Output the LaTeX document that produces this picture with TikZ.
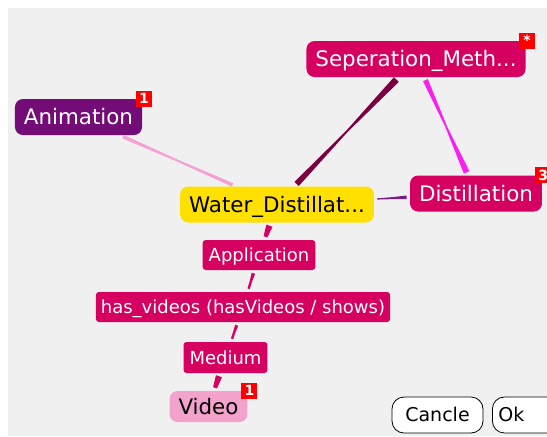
\documentclass[tikz,border=0pt]{standalone}
\usepackage{fontspec}
\setmainfont{DejaVu Sans}
\usetikzlibrary{positioning, calc}

\definecolor{panelgrey}{RGB}{240,240,240}
\definecolor{crimson}{RGB}{214,0,96}
\definecolor{animpurple}{RGB}{116,12,120}
\definecolor{topicyellow}{RGB}{255,224,0}
\definecolor{videopink}{RGB}{243,162,204}
\definecolor{badgered}{RGB}{255,0,0}
\definecolor{linkmaroon}{RGB}{122,0,64}
\definecolor{linkmagenta}{RGB}{250,30,240}
\definecolor{linkpink}{RGB}{245,160,210}
\definecolor{linkpurple}{RGB}{120,30,130}

% tapered link: from, to, colour, half width at from, in the middle, at to
\newcommand{\wedgelink}[6]{%
  \path (#1) -- coordinate[pos=0] (ta) coordinate[pos=1] (tb) (#2);
  \coordinate (tA) at ($(ta)!1.5pt!(tb)$);
  \coordinate (tB) at ($(tb)!1.5pt!(ta)$);
  \coordinate (tM) at ($(tA)!.5!(tB)$);
  \fill[#3] ($(tA)!#4!90:(tB)$) -- ($(tM)!#5!90:(tB)$) -- ($(tB)!#6!-90:(tA)$)
    -- ($(tB)!#6!90:(tA)$) -- ($(tM)!#5!-90:(tB)$) -- ($(tA)!#4!-90:(tB)$) -- cycle;
}

\tikzset{
  topic/.style={rounded corners=4pt, minimum height=18pt, inner xsep=4.5pt, inner ysep=0pt,
    text height=7.8pt, text depth=0pt, font=\fontsize{10.7}{12}\selectfont},
  relation/.style={fill=crimson, text=white, rounded corners=1.5pt, minimum height=15pt,
    inner xsep=3pt, inner ysep=0pt, text height=6.6pt, text depth=0pt, font=\fontsize{9}{10}\selectfont},
  badge/.style={fill=badgered, text=white, minimum size=8pt, inner sep=0pt,
    font=\fontsize{7}{7}\selectfont\bfseries},
  button/.style={draw=black, fill=white, rounded corners=6pt, minimum height=18pt,
    inner ysep=0pt, text height=6pt, text depth=-1.5pt, font=\fontsize{9.5}{10}\selectfont}
}

\begin{document}
\begin{tikzpicture}[x=0.5pt, y=-0.5pt]
    \useasboundingbox (0,0) rectangle (547,436);
    \fill[panelgrey] (8,8) rectangle (547,436);
    % Topics
    \node[topic, fill=crimson, text=white] (sep) at (416,59) {Seperation\_Meth...};
    \node[topic, fill=animpurple, text=white] (anim) at (78.5,117) {Animation};
    \node[topic, fill=topicyellow] (water) at (277,204.5) {Water\_Distillat...};
    \node[topic, fill=crimson, text=white] (dist) at (476,193.5) {Distillation};
    \node[topic, fill=videopink, minimum height=15.5pt] (video) at (208.5,406.5) {Video};
    % Relations
    \node[relation] (app) at (259,255) {Application};
    \node[relation, inner xsep=2.5pt] (hasvid) at (243,307) {has\_videos (hasVideos / shows)};
    \node[relation, minimum height=15.5pt] (medium) at (225.5,357.5) {Medium};
    % Badges
    \node[badge] (sepbadge) at ([xshift=0.5pt]sep.north east) {*};
    \node[badge] (animbadge) at ([xshift=0.75pt]anim.north east) {1};
    \node[badge] (distbadge) at ([xshift=0.5pt]dist.north east) {3};
    \node[badge] (videobadge) at ([xshift=0.75pt]video.north east) {1};
    % Links
    \wedgelink{sep}{water}{linkmaroon}{1.7pt}{0.45pt}{1.5pt}
    \wedgelink{sep}{dist}{linkmagenta}{1.3pt}{0.45pt}{1.5pt}
    \wedgelink{anim}{water}{linkpink}{0.9pt}{0.5pt}{0.9pt}
    \wedgelink{water}{dist}{linkpurple}{0.3pt}{0.5pt}{0.9pt}
    \wedgelink{water}{app}{crimson}{1.6pt}{1.3pt}{1pt}
    \wedgelink{app}{hasvid}{crimson}{0.9pt}{0.6pt}{0.6pt}
    \wedgelink{hasvid}{medium}{crimson}{0.8pt}{0.6pt}{0.6pt}
    \wedgelink{medium}{video}{crimson}{1.6pt}{1.3pt}{1pt}
    % Buttons
    \node[button, minimum width=45.5pt] (cancel) at (437.5,415) {Cancle};
    \node[button, anchor=west, text width=30pt, align=left, inner xsep=3pt] (ok) at (492,415) {Ok};
\end{tikzpicture}
\end{document}
